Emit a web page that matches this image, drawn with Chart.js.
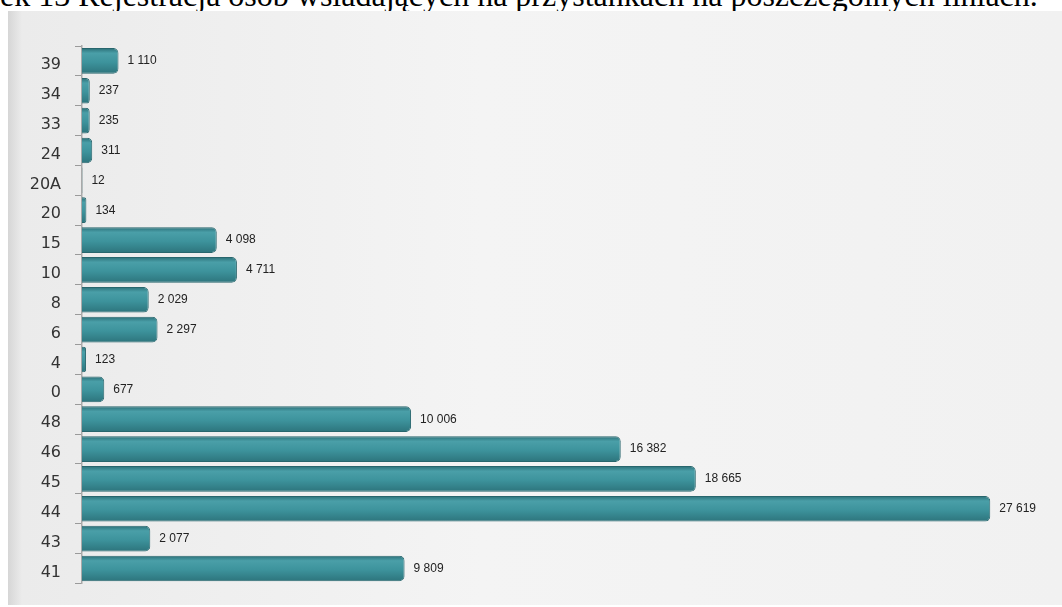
<!DOCTYPE html>
<html lang="pl">
<head>
    <meta charset="UTF-8">
    <title>Rejestracja osób wsiadających</title>
    <script src="https://cdn.jsdelivr.net/npm/chart.js"></script>
    <style>
        html, body { margin: 0; padding: 0; background: #fff; overflow: hidden; }
        #caption {
            position: absolute; left: 0; top: -23px; white-space: nowrap;
            font-family: "Liberation Serif", serif; font-size: 32px; line-height: 36px; color: #000;
        }
        #panel {
            position: absolute; left: 8px; top: 11px; right: 0; bottom: 2px;
            background: linear-gradient(to right, #d6d6d6 0px, #ebebeb 14px, #f4f4f4 45%, #f1f1f1 100%);
        }
        #wrap { position: absolute; left: 0; top: 0; width: 1062px; height: 607px; }
    </style>
</head>
<body>
    <div id="caption">ek 13 Rejestracja osób wsiadających na przystankach na poszczególnych liniach.</div>
    <div id="panel"></div>
    <div id="wrap"><canvas id="barChart"></canvas></div>
    <script>
        const lines = ['39', '34', '33', '24', '20A', '20', '15', '10', '8', '6', '4', '0', '48', '46', '45', '44', '43', '41'];
        const passengers = [1110, 237, 235, 311, 12, 134, 4098, 4711, 2029, 2297, 123, 677, 10006, 16382, 18665, 27619, 2077, 9809];

        function fmt(v) {
            return String(v).replace(/\B(?=(\d{3})+(?!\d))/g, ' ');
        }

        // gradient per bar, built from the element position of the previous update
        function barFill(ctx) {
            const el = ctx.element;
            if (!el || el.y == null || !el.height) return '#3a8f98';
            const g = ctx.chart.ctx.createLinearGradient(0, el.y - el.height / 2, 0, el.y + el.height / 2);
            g.addColorStop(0, '#2b6f77');
            g.addColorStop(0.2, '#4a9fa8');
            g.addColorStop(0.55, '#3d939c');
            g.addColorStop(1, '#2d747c');
            return g;
        }

        const valueLabels = {
            id: 'valueLabels',
            afterDatasetsDraw(chart) {
                const c = chart.ctx;
                const meta = chart.getDatasetMeta(0);
                c.save();
                c.font = '12px "Liberation Sans", Arial, sans-serif';
                c.fillStyle = '#222';
                c.textBaseline = 'middle';
                meta.data.forEach((bar, i) => {
                    c.fillText(fmt(passengers[i]), bar.x + 9, bar.y);
                });
                c.restore();
            }
        };

        const chart = new Chart(document.getElementById('barChart'), {
            type: 'bar',
            data: {
                labels: lines,
                datasets: [{
                    data: passengers,
                    backgroundColor: barFill,
                    borderColor: '#28666d',
                    borderWidth: 1,
                    borderRadius: 5,
                    borderSkipped: 'start',
                    barPercentage: 0.86,
                    categoryPercentage: 1
                }]
            },
            options: {
                indexAxis: 'y',
                responsive: true,
                maintainAspectRatio: false,
                animation: false,
                layout: { padding: { left: 8, top: 46, right: 0, bottom: 19 } },
                plugins: {
                    legend: { display: false },
                    tooltip: { enabled: false }
                },
                scales: {
                    x: {
                        display: false,
                        min: 0,
                        max: 29800
                    },
                    y: {
                        afterFit(scale) { scale.width = 74; },
                        border: { display: true, color: '#a9a9a9', width: 1.5 },
                        grid: {
                            offset: true,
                            drawOnChartArea: false,
                            drawTicks: true,
                            tickLength: 7,
                            color: '#9a9a9a'
                        },
                        ticks: {
                            padding: 14,
                            labelOffset: 4,
                            color: '#333',
                            font: { family: '"DejaVu Sans", sans-serif', size: 16 }
                        }
                    }
                }
            },
            plugins: [valueLabels]
        });
        chart.update();
    </script>
</body>
</html>
